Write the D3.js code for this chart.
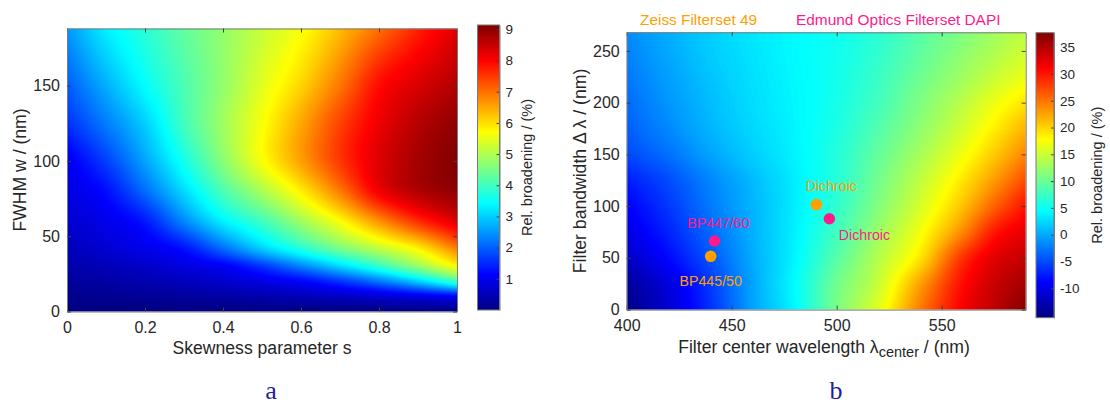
<!DOCTYPE html>
<html>
<head>
<meta charset="utf-8">
<script src="https://cdn.jsdelivr.net/npm/d3@7"></script>
<style>
  body { margin: 0; background: #fff; }
  svg { display: block; font-family: "Liberation Sans", Arial, sans-serif; }
</style>
</head>
<body>
<svg id="fig" width="1110" height="405"></svg>
<script>
// ---- panel a: relative broadening over skewness s and FWHM w ----
const skewness = [0, 0.1, 0.2, 0.3, 0.4, 0.5, 0.6, 0.7, 0.8, 0.9, 1];
const fwhm = [0, 10, 20, 30, 40, 60, 80, 100, 125, 150, 188];
// one row per fwhm value, one column per skewness value (%)
const broadeningA = [
  [0, 0, 0, 0, 0, 0, 0, 0, 0, 0, 0],
  [0.12, 0.15, 0.2, 0.25, 0.32, 0.4, 0.5, 0.6, 0.75, 0.92, 1.14],
  [0.25, 0.32, 0.42, 0.55, 0.7, 0.9, 1.14, 1.6, 2.2, 3.0, 4.0],
  [0.38, 0.5, 0.65, 0.85, 1.05, 1.6, 2.3, 3.05, 3.85, 4.75, 5.71],
  [0.5, 0.7, 0.9, 1.2, 1.95, 2.8, 3.55, 4.3, 4.95, 5.65, 6.7],
  [0.7, 0.95, 1.35, 2.35, 3.3, 4.0, 4.85, 5.71, 6.7, 7.6, 8.3],
  [0.85, 1.25, 2.1, 3.1, 4.1, 4.95, 5.85, 6.9, 8.1, 8.7, 9.0],
  [1.0, 1.7, 2.6, 3.6, 4.65, 5.65, 6.55, 7.5, 8.3, 8.8, 9.12],
  [1.55, 2.25, 3.0, 4.0, 4.85, 5.65, 6.5, 7.4, 8.15, 8.65, 9.0],
  [1.95, 2.7, 3.43, 4.1, 4.75, 5.45, 6.1, 6.95, 7.9, 8.35, 8.7],
  [2.5, 3.3, 3.8, 4.3, 4.75, 5.2, 5.65, 6.3, 7.0, 7.7, 8.3]
];
const xTicksA = [0, 0.2, 0.4, 0.6, 0.8, 1];
const yTicksA = [0, 50, 100, 150];
const cbarRangeA = [0, 9.14];
const cbarTicksA = [1, 2, 3, 4, 5, 6, 7, 8, 9];

// ---- panel b: relative broadening over filter center and bandwidth ----
const centerWl = [400, 420, 440, 460, 480, 500, 520, 540, 560, 575, 590];
const bandwidth = [0, 25, 50, 75, 100, 125, 150, 175, 200, 225, 250, 268];
const broadeningB = [
  [-15.3, -11.2, -6.3, -0.4, 4.2, 10.8, 16.4, 24.8, 31.5, 34.5, 37.5],
  [-14, -10.5, -5.8, -0.2, 4.45, 10.3, 15, 22.8, 30.5, 33.8, 35.8],
  [-12, -8.5, -4.4, 0.1, 4.0, 9.0, 13.9, 19.2, 28.5, 32.5, 34.1],
  [-10.2, -7.1, -3.3, 0.4, 3.8, 7.9, 12.6, 17.3, 24.0, 29.8, 32.4],
  [-9.0, -6.0, -2.5, 0.6, 3.6, 7.0, 11.3, 15.7, 21.0, 26.0, 30.2],
  [-7.4, -4.9, -1.8, 0.9, 3.6, 6.4, 10.5, 14.5, 19.0, 23.0, 27.2],
  [-5.2, -3.0, -0.3, 1.9, 3.9, 6.3, 9.7, 13.2, 17.1, 20.5, 24.2],
  [-4.0, -1.7, 0.6, 2.4, 4.0, 5.9, 8.8, 12.0, 15.5, 18.5, 21.7],
  [-3.3, -1.0, 1.0, 2.7, 4.1, 5.6, 8.0, 11.1, 14.2, 16.8, 19.2],
  [-2.6, -0.5, 1.4, 2.9, 4.2, 5.4, 7.5, 10.2, 12.8, 14.9, 16.8],
  [-2.0, 0.0, 1.8, 3.1, 4.3, 5.3, 7.0, 9.4, 11.8, 13.5, 15.3],
  [-1.6, 0.3, 2.0, 3.3, 4.3, 5.2, 6.7, 9.0, 11.1, 12.8, 14.3]
];
const xTicksB = [400, 450, 500, 550];
const yTicksB = [0, 50, 100, 150, 200, 250];
const cbarRangeB = [-15.5, 37.7];
const cbarTicksB = [-10, -5, 0, 5, 10, 15, 20, 25, 30, 35];

// filter sets plotted on panel b
const filterSets = ["Zeiss Filterset 49", "Edmund Optics Filterset DAPI"];
const filterColors = ["#ffa000", "#ff1a8c"];
const zeissFilters = [
  { name: "BP445/50", center: 440, width: 51.5 },
  { name: "Dichroic", center: 490.3, width: 101.5 }
];
const edmundFilters = [
  { name: "BP447/60", center: 441.8, width: 66.3 },
  { name: "Dichroic", center: 496.5, width: 87.8 }
];
// label placement next to each marker (px)
const zeissLabelPos = [{ dx: 0, dy: 30, anchor: "middle" }, { dx: 15, dy: -14, anchor: "middle" }];
const edmundLabelPos = [{ dx: 4, dy: -12.5, anchor: "middle" }, { dx: 9.5, dy: 21.5, anchor: "start" }];

const textColor = "#262626";
const svg = d3.select("#fig");

// MATLAB style jet colormap
const jetStops = [0, 0.125, 0.375, 0.625, 0.875, 1];
const jetColors = ["#000080", "#0000ff", "#00ffff", "#ffff00", "#ff0000", "#800000"];

function jetScale([lo, hi]) {
  return d3.scaleLinear()
    .domain(jetStops.map(t => lo + t * (hi - lo)))
    .range(jetColors)
    .clamp(true);
}

const defs = svg.append("defs");
defs.append("linearGradient")
  .attr("id", "jet")
  .attr("x1", 0).attr("y1", 1).attr("x2", 0).attr("y2", 0)
  .selectAll("stop")
  .data(jetStops)
  .join("stop")
  .attr("offset", d => d)
  .attr("stop-color", (d, i) => jetColors[i]);

// cubic Hermite shading between grid nodes on a non-uniform axis
function hermite(xs, vals, x) {
  const n = xs.length;
  const i = Math.max(0, Math.min(n - 2, d3.bisectRight(xs, x) - 1));
  const slope = k => (vals[k + 1] - vals[k]) / (xs[k + 1] - xs[k]);
  const tangent = k => {
    if (k === 0) return slope(0);
    if (k === n - 1) return slope(n - 2);
    return (slope(k - 1) * (xs[k + 1] - xs[k]) + slope(k) * (xs[k] - xs[k - 1])) / (xs[k + 1] - xs[k - 1]);
  };
  const h = xs[i + 1] - xs[i];
  const t = (x - xs[i]) / h;
  const t2 = t * t, t3 = t2 * t;
  return (2 * t3 - 3 * t2 + 1) * vals[i] + (t3 - 2 * t2 + t) * tangent(i) * h +
    (-2 * t3 + 3 * t2) * vals[i + 1] + (t3 - t2) * tangent(i + 1) * h;
}

function drawHeatmap(g, x, y, xs, ys, grid, range) {
  const color = jetScale(range);
  const lut = d3.range(256).map(k => d3.rgb(color(range[0] + k / 255 * (range[1] - range[0]))));
  const [x0, x1] = x.range();
  const [yb, yt] = y.range();
  const w = Math.round(x1 - x0), h = Math.round(yb - yt);
  const pxX = d3.range(w).map(c => x.invert(x0 + (c + 0.5) * (x1 - x0) / w));
  const pxY = d3.range(h).map(r => y.invert(yt + (r + 0.5) * (yb - yt) / h));
  // along each grid row first, then down each pixel column
  const rows = grid.map(row => pxX.map(xv => hermite(xs, row, xv)));
  const canvas = document.createElement("canvas");
  canvas.width = w;
  canvas.height = h;
  const ctx = canvas.getContext("2d");
  const img = ctx.createImageData(w, h);
  for (let c = 0; c < w; c++) {
    const col = rows.map(r => r[c]);
    for (let r = 0; r < h; r++) {
      const v = hermite(ys, col, pxY[r]);
      let k = Math.round((v - range[0]) / (range[1] - range[0]) * 255);
      k = Math.max(0, Math.min(255, k));
      const p = (r * w + c) * 4;
      img.data[p] = lut[k].r;
      img.data[p + 1] = lut[k].g;
      img.data[p + 2] = lut[k].b;
      img.data[p + 3] = 255;
    }
  }
  ctx.putImageData(img, 0, 0);
  g.append("image")
    .attr("x", x0).attr("y", yt)
    .attr("width", x1 - x0).attr("height", yb - yt)
    .attr("preserveAspectRatio", "none")
    .attr("href", canvas.toDataURL());
}

function styleAxis(sel, size) {
  sel.attr("font-family", null).attr("font-size", size);
  sel.selectAll(".domain").attr("stroke", "#7a7a7a");
  sel.selectAll(".tick line").attr("stroke", "#404040");
  sel.selectAll("text").attr("fill", textColor);
}

function drawFrame(g, x, y, xTicks, yTicks) {
  const [xl, xr] = x.range();
  const [yb, yt] = y.range();
  g.append("g").attr("transform", `translate(0,${yb})`)
    .call(d3.axisBottom(x).tickValues(xTicks).tickFormat(String)
      .tickSizeInner(-4).tickSizeOuter(0).tickPadding(10))
    .call(styleAxis, 16);
  g.append("g").attr("transform", `translate(0,${yt})`)
    .call(d3.axisTop(x).tickValues(xTicks).tickFormat("")
      .tickSizeInner(-4).tickSizeOuter(0))
    .call(styleAxis, 16);
  g.append("g").attr("transform", `translate(${xl},0)`)
    .call(d3.axisLeft(y).tickValues(yTicks).tickFormat(String)
      .tickSizeInner(-4).tickSizeOuter(0).tickPadding(7))
    .call(styleAxis, 16);
  g.append("g").attr("transform", `translate(${xr},0)`)
    .call(d3.axisRight(y).tickValues(yTicks).tickFormat("")
      .tickSizeInner(-4).tickSizeOuter(0))
    .call(styleAxis, 16);
}

function drawColorbar(g, left, top, bottom, width, range, ticks, labelX) {
  const s = d3.scaleLinear(range, [bottom, top]);
  g.append("rect")
    .attr("x", left).attr("y", top)
    .attr("width", width).attr("height", bottom - top)
    .attr("fill", "url(#jet)");
  g.append("g").attr("transform", `translate(${left + width},0)`)
    .call(d3.axisRight(s).tickValues(ticks).tickFormat(String)
      .tickSizeInner(-3).tickSizeOuter(0).tickPadding(6))
    .call(styleAxis, 13.5);
  g.append("rect")
    .attr("x", left).attr("y", top)
    .attr("width", width).attr("height", bottom - top)
    .attr("fill", "none").attr("stroke", "#7a7a7a");
  g.append("text")
    .attr("transform", `translate(${labelX},${(top + bottom) / 2}) rotate(-90)`)
    .attr("text-anchor", "middle")
    .attr("font-size", 14.5)
    .attr("fill", textColor)
    .text("Rel. broadening / (%)");
}

function panelLetter(x, letter) {
  svg.append("text")
    .attr("x", x).attr("y", 398.5)
    .attr("text-anchor", "middle")
    .attr("font-family", "'Liberation Serif', 'DejaVu Serif', serif")
    .attr("font-size", 26)
    .attr("fill", "#1f1f99")
    .text(letter);
}

// ---- draw panel a ----
const xA = d3.scaleLinear([0, 1], [67, 457]);
const yA = d3.scaleLinear([0, 188], [311.5, 28.5]);
const gA = svg.append("g");
drawHeatmap(gA, xA, yA, skewness, fwhm, broadeningA, cbarRangeA);
drawFrame(gA, xA, yA, xTicksA, yTicksA);
drawColorbar(gA, 477.5, 25, 310, 22, cbarRangeA, cbarTicksA, 532);

gA.append("text")
  .attr("x", 262).attr("y", 354)
  .attr("text-anchor", "middle")
  .attr("font-size", 17.6).attr("fill", textColor)
  .text("Skewness parameter s");
gA.append("text")
  .attr("transform", `translate(25.5,${(311.5 + 28.5) / 2}) rotate(-90)`)
  .attr("text-anchor", "middle")
  .attr("font-size", 17.6).attr("fill", textColor)
  .text("FWHM w / (nm)");
panelLetter(271, "a");

// ---- draw panel b ----
const xB = d3.scaleLinear([400, 590], [626.7, 1025.7]);
const yB = d3.scaleLinear([0, 268], [309.6, 32.3]);
const gB = svg.append("g");
drawHeatmap(gB, xB, yB, centerWl, bandwidth, broadeningB, cbarRangeB);
drawFrame(gB, xB, yB, xTicksB, yTicksB);
drawColorbar(gB, 1036, 32.7, 317.7, 18, cbarRangeB, cbarTicksB, 1102);

const xLabelB = gB.append("text")
  .attr("x", 824).attr("y", 352.5)
  .attr("text-anchor", "middle")
  .attr("font-size", 17.6).attr("fill", textColor);
xLabelB.append("tspan").text("Filter center wavelength \u03bb");
xLabelB.append("tspan").attr("font-size", 14.5).attr("dy", 4).text("center");
xLabelB.append("tspan").attr("dy", -4).text(" / (nm)");

gB.append("text")
  .attr("transform", `translate(586,${(309.6 + 32.3) / 2}) rotate(-90)`)
  .attr("text-anchor", "middle")
  .attr("font-size", 17.6).attr("fill", textColor)
  .text("Filter bandwidth \u0394 \u03bb / (nm)");

// filter set names above the plot
gB.selectAll(".set-name")
  .data(filterSets)
  .join("text")
  .attr("class", "set-name")
  .attr("x", (d, i) => [640, 796][i])
  .attr("y", 25)
  .attr("font-size", 15.4)
  .attr("fill", (d, i) => filterColors[i])
  .text(d => d);

function drawFilters(points, offsets, color) {
  const g = gB.append("g");
  g.selectAll("circle")
    .data(points)
    .join("circle")
    .attr("cx", d => xB(d.center))
    .attr("cy", d => yB(d.width))
    .attr("r", 5.8)
    .attr("fill", color);
  g.selectAll("text")
    .data(points)
    .join("text")
    .attr("x", (d, i) => xB(d.center) + offsets[i].dx)
    .attr("y", (d, i) => yB(d.width) + offsets[i].dy)
    .attr("text-anchor", (d, i) => offsets[i].anchor)
    .attr("font-size", 14.2)
    .attr("fill", color)
    .text(d => d.name);
}
drawFilters(zeissFilters, zeissLabelPos, filterColors[0]);
drawFilters(edmundFilters, edmundLabelPos, filterColors[1]);
panelLetter(836, "b");
</script>
</body>
</html>
